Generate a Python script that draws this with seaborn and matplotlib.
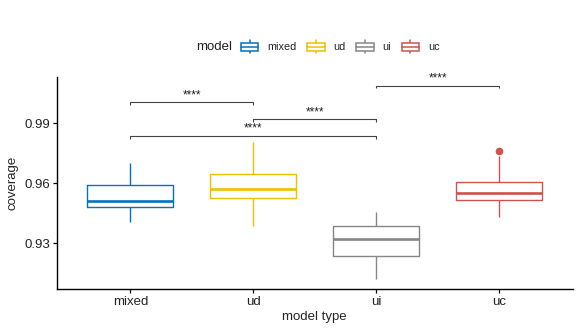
import matplotlib
matplotlib.use("Agg")
import matplotlib.pyplot as plt
import seaborn as sns
import pandas as pd
from matplotlib.legend_handler import HandlerBase
from matplotlib.lines import Line2D
from matplotlib.patches import Rectangle

# ---------------- data ----------------
models = ["mixed", "ud", "ui", "uc"]
colors = ["#0073C2", "#EFC000", "#868686", "#CD534C"]   # jco palette

mixed_cov = [0.9405, 0.9450, 0.9480, 0.9500, 0.9513, 0.9550, 0.9592, 0.9640, 0.9700]
ud_cov    = [0.9388, 0.9480, 0.9527, 0.9550, 0.9573, 0.9610, 0.9648, 0.9720, 0.9805]
ui_cov    = [0.9121, 0.9180, 0.9237, 0.9280, 0.9320, 0.9350, 0.9388, 0.9420, 0.9458]
uc_cov    = [0.9433, 0.9480, 0.9517, 0.9530, 0.9550, 0.9580, 0.9608, 0.9737, 0.9762]

# pairwise comparisons: (group1, group2, bracket height, label)
comparisons = [
    ("mixed", "ud", 1.0005, "****"),
    ("ud", "ui", 0.9922, "****"),
    ("mixed", "ui", 0.9838, "****"),
    ("ui", "uc", 1.0088, "****"),
]

df = pd.DataFrame({
    "model": (["mixed"] * len(mixed_cov) + ["ud"] * len(ud_cov)
              + ["ui"] * len(ui_cov) + ["uc"] * len(uc_cov)),
    "coverage": mixed_cov + ud_cov + ui_cov + uc_cov,
})

sns.set_style("ticks")
plt.rcParams["font.family"] = ["Liberation Sans", "DejaVu Sans"]

fig = plt.figure(figsize=(5.81, 3.32), dpi=100)
ax = fig.add_axes([0.0976, 0.1295, 0.8884, 0.6395])

pal = dict(zip(models, colors))
sns.boxplot(data=df, x="model", y="coverage", hue="model", order=models,
            hue_order=models, palette=pal, fill=False, width=0.7,
            linewidth=1.0, showcaps=False, legend=False, ax=ax,
            medianprops={"linewidth": 1.9},
            whiskerprops={"linewidth": 1.0},
            flierprops={"marker": "o", "markersize": 4.5,
                        "markerfacecolor": colors[3], "markeredgecolor": colors[3]})

ax.set_xlim(-0.6, 3.6)
ax.set_ylim(0.9072, 1.0133)
ax.set_yticks([0.93, 0.96, 0.99])
ax.set_yticklabels(["0.93", "0.96", "0.99"])

# significance brackets
pos = {m: i for i, m in enumerate(models)}
tip = 0.0014
for g1, g2, h, lab in comparisons:
    x1, x2 = pos[g1], pos[g2]
    ax.plot([x1, x1, x2, x2], [h - tip, h, h, h - tip], color="#444444",
            lw=0.8, solid_capstyle="butt")
    ax.text((x1 + x2) / 2, h + 0.0004, lab, ha="center", va="bottom",
            fontsize=8.5, color="#222222")

for s in ["top", "right"]:
    ax.spines[s].set_visible(False)
for s in ["left", "bottom"]:
    ax.spines[s].set_linewidth(1.0)
    ax.spines[s].set_color("black")
ax.tick_params(axis="both", length=3, width=0.9, color="black",
               labelsize=9.5, labelcolor="#222222", pad=2)
ax.set_xlabel("model type", fontsize=9.5, labelpad=2)
ax.set_ylabel("coverage", fontsize=9.5, labelpad=4)


# legend with box-plot glyphs, laid out horizontally above the panel
class BoxHandler(HandlerBase):
    def create_artists(self, legend, orig_handle, xdescent, ydescent,
                       width, height, fontsize, trans):
        c = orig_handle.get_edgecolor()
        x0, y0 = -xdescent, -ydescent
        cx = x0 + width / 2
        wh = Line2D([cx, cx], [y0 - height * 0.1, y0 + height * 1.1],
                    color=c, lw=1.1, transform=trans)
        rect = Rectangle((x0 + width * 0.04, y0 + height * 0.12),
                         width * 0.92, height * 0.76, fc="white", ec=c,
                         lw=1.1, transform=trans)
        med = Line2D([x0 + width * 0.04, x0 + width * 0.96],
                     [y0 + height / 2] * 2, color=c, lw=1.1, transform=trans)
        return [wh, rect, med]


handles = [Rectangle((0, 0), 1, 1, fc="white", ec=c) for c in colors]
fig.legend(handles, models, loc="center", bbox_to_anchor=(0.585, 0.859),
           ncol=4, frameon=False, fontsize=7.8, handlelength=1.75,
           handleheight=1.15, handletextpad=0.75, columnspacing=0.9,
           handler_map={Rectangle: BoxHandler()})
fig.text(0.338, 0.859, "model", ha="left", va="center", fontsize=9.5,
         color="#222222")

fig.savefig("out.png", dpi=100)
